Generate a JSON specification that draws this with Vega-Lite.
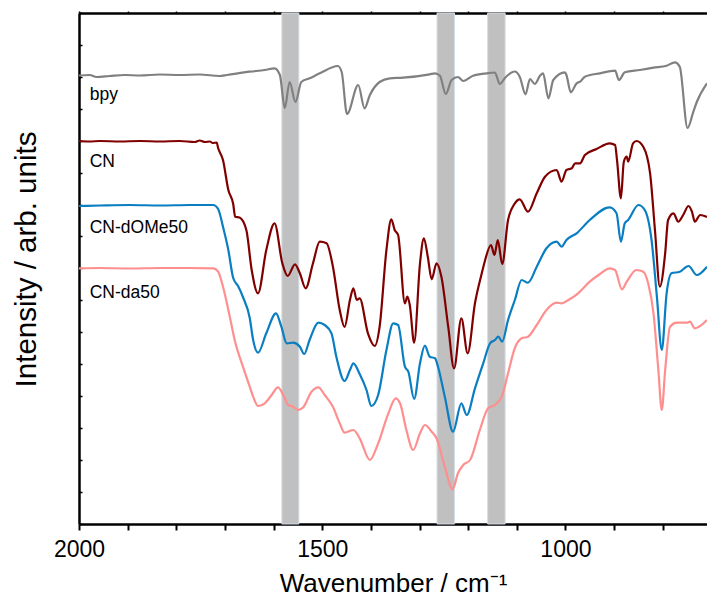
{
  "$schema": "https://vega.github.io/schema/vega-lite/v6.json",
  "width": 628,
  "height": 511,
  "autosize": {"type": "none"},
  "padding": {"left": 79, "top": 13, "right": 0, "bottom": 75},
  "background": "white",
  "config": {
    "view": {"stroke": null},
    "font": "Liberation Sans",
    "axis": {
      "labelFont": "Liberation Sans",
      "titleFont": "Liberation Sans",
      "domainColor": "black",
      "tickColor": "black",
      "labelColor": "black",
      "titleColor": "black",
      "titleFontWeight": "normal",
      "grid": false
    }
  },
  "datasets": {
    "bands": [
      {"from": 1583, "to": 1548},
      {"from": 1264, "to": 1228},
      {"from": 1160, "to": 1124}
    ],
    "labels": [
      {"sample": "bpy", "wavenumber": 1978, "intensity": 424},
      {"sample": "CN", "wavenumber": 1978, "intensity": 357.5},
      {"sample": "CN-dOMe50", "wavenumber": 1978, "intensity": 291},
      {"sample": "CN-da50", "wavenumber": 1978, "intensity": 226}
    ],
    "spectra": [
      {"sample": "bpy", "wavenumber": 2000, "intensity": 448.5},
      {"sample": "bpy", "wavenumber": 1978, "intensity": 449},
      {"sample": "bpy", "wavenumber": 1964, "intensity": 447},
      {"sample": "bpy", "wavenumber": 1937, "intensity": 448},
      {"sample": "bpy", "wavenumber": 1906, "intensity": 449},
      {"sample": "bpy", "wavenumber": 1875, "intensity": 448.5},
      {"sample": "bpy", "wavenumber": 1834, "intensity": 449.5},
      {"sample": "bpy", "wavenumber": 1793, "intensity": 449},
      {"sample": "bpy", "wavenumber": 1752, "intensity": 449.5},
      {"sample": "bpy", "wavenumber": 1711, "intensity": 448},
      {"sample": "bpy", "wavenumber": 1696, "intensity": 449},
      {"sample": "bpy", "wavenumber": 1649, "intensity": 452.3},
      {"sample": "bpy", "wavenumber": 1618, "intensity": 454},
      {"sample": "bpy", "wavenumber": 1598, "intensity": 455.7},
      {"sample": "bpy", "wavenumber": 1587, "intensity": 449},
      {"sample": "bpy", "wavenumber": 1577, "intensity": 416},
      {"sample": "bpy", "wavenumber": 1567, "intensity": 442},
      {"sample": "bpy", "wavenumber": 1555, "intensity": 422},
      {"sample": "bpy", "wavenumber": 1543, "intensity": 442},
      {"sample": "bpy", "wavenumber": 1526, "intensity": 445.7},
      {"sample": "bpy", "wavenumber": 1505, "intensity": 450.7},
      {"sample": "bpy", "wavenumber": 1468, "intensity": 458},
      {"sample": "bpy", "wavenumber": 1460, "intensity": 452},
      {"sample": "bpy", "wavenumber": 1449, "intensity": 410},
      {"sample": "bpy", "wavenumber": 1426, "intensity": 439},
      {"sample": "bpy", "wavenumber": 1413, "intensity": 415.7},
      {"sample": "bpy", "wavenumber": 1402, "intensity": 429},
      {"sample": "bpy", "wavenumber": 1382, "intensity": 442},
      {"sample": "bpy", "wavenumber": 1361, "intensity": 445.7},
      {"sample": "bpy", "wavenumber": 1334, "intensity": 446.3},
      {"sample": "bpy", "wavenumber": 1279, "intensity": 449.7},
      {"sample": "bpy", "wavenumber": 1268, "intensity": 450.7},
      {"sample": "bpy", "wavenumber": 1258, "intensity": 448.3},
      {"sample": "bpy", "wavenumber": 1246, "intensity": 430},
      {"sample": "bpy", "wavenumber": 1234, "intensity": 444},
      {"sample": "bpy", "wavenumber": 1221, "intensity": 447},
      {"sample": "bpy", "wavenumber": 1210, "intensity": 443},
      {"sample": "bpy", "wavenumber": 1190, "intensity": 448.3},
      {"sample": "bpy", "wavenumber": 1162, "intensity": 450.7},
      {"sample": "bpy", "wavenumber": 1145, "intensity": 451.5},
      {"sample": "bpy", "wavenumber": 1135, "intensity": 440},
      {"sample": "bpy", "wavenumber": 1124, "intensity": 446.3},
      {"sample": "bpy", "wavenumber": 1104, "intensity": 452.5},
      {"sample": "bpy", "wavenumber": 1094, "intensity": 447.3},
      {"sample": "bpy", "wavenumber": 1082, "intensity": 429.7},
      {"sample": "bpy", "wavenumber": 1073, "intensity": 445},
      {"sample": "bpy", "wavenumber": 1063, "intensity": 440},
      {"sample": "bpy", "wavenumber": 1052, "intensity": 448.5},
      {"sample": "bpy", "wavenumber": 1046, "intensity": 450.7},
      {"sample": "bpy", "wavenumber": 1035, "intensity": 425.7},
      {"sample": "bpy", "wavenumber": 1025, "intensity": 444},
      {"sample": "bpy", "wavenumber": 1001, "intensity": 451.7},
      {"sample": "bpy", "wavenumber": 998, "intensity": 449},
      {"sample": "bpy", "wavenumber": 989, "intensity": 431.7},
      {"sample": "bpy", "wavenumber": 977, "intensity": 440.7},
      {"sample": "bpy", "wavenumber": 970, "intensity": 442.3},
      {"sample": "bpy", "wavenumber": 960, "intensity": 447.3},
      {"sample": "bpy", "wavenumber": 929, "intensity": 450.7},
      {"sample": "bpy", "wavenumber": 898, "intensity": 453.3},
      {"sample": "bpy", "wavenumber": 890, "intensity": 444},
      {"sample": "bpy", "wavenumber": 878, "intensity": 451.7},
      {"sample": "bpy", "wavenumber": 847, "intensity": 454},
      {"sample": "bpy", "wavenumber": 819, "intensity": 456.3},
      {"sample": "bpy", "wavenumber": 792, "intensity": 458.3},
      {"sample": "bpy", "wavenumber": 775, "intensity": 461.7},
      {"sample": "bpy", "wavenumber": 765, "intensity": 457.3},
      {"sample": "bpy", "wavenumber": 749, "intensity": 396},
      {"sample": "bpy", "wavenumber": 737, "intensity": 412.3},
      {"sample": "bpy", "wavenumber": 730, "intensity": 422},
      {"sample": "bpy", "wavenumber": 709, "intensity": 440.7},

      {"sample": "CN", "wavenumber": 2000, "intensity": 383},
      {"sample": "CN", "wavenumber": 1978, "intensity": 382.5},
      {"sample": "CN", "wavenumber": 1957, "intensity": 383},
      {"sample": "CN", "wavenumber": 1916, "intensity": 382.5},
      {"sample": "CN", "wavenumber": 1875, "intensity": 383},
      {"sample": "CN", "wavenumber": 1834, "intensity": 382.5},
      {"sample": "CN", "wavenumber": 1793, "intensity": 383},
      {"sample": "CN", "wavenumber": 1762, "intensity": 382},
      {"sample": "CN", "wavenumber": 1752, "intensity": 383.5},
      {"sample": "CN", "wavenumber": 1741, "intensity": 382},
      {"sample": "CN", "wavenumber": 1731, "intensity": 382.5},
      {"sample": "CN", "wavenumber": 1725, "intensity": 381},
      {"sample": "CN", "wavenumber": 1717, "intensity": 381.5},
      {"sample": "CN", "wavenumber": 1714, "intensity": 376},
      {"sample": "CN", "wavenumber": 1704, "intensity": 364},
      {"sample": "CN", "wavenumber": 1693, "intensity": 334},
      {"sample": "CN", "wavenumber": 1683, "intensity": 320},
      {"sample": "CN", "wavenumber": 1679, "intensity": 307.3},
      {"sample": "CN", "wavenumber": 1670, "intensity": 306.5},
      {"sample": "CN", "wavenumber": 1656, "intensity": 294},
      {"sample": "CN", "wavenumber": 1645, "intensity": 254},
      {"sample": "CN", "wavenumber": 1632, "intensity": 230.7},
      {"sample": "CN", "wavenumber": 1615, "intensity": 274},
      {"sample": "CN", "wavenumber": 1598, "intensity": 300.7},
      {"sample": "CN", "wavenumber": 1582, "intensity": 260.7},
      {"sample": "CN", "wavenumber": 1571, "intensity": 248},
      {"sample": "CN", "wavenumber": 1556, "intensity": 259.7},
      {"sample": "CN", "wavenumber": 1546, "intensity": 250.7},
      {"sample": "CN", "wavenumber": 1534, "intensity": 235.7},
      {"sample": "CN", "wavenumber": 1519, "intensity": 260.7},
      {"sample": "CN", "wavenumber": 1505, "intensity": 282.3},
      {"sample": "CN", "wavenumber": 1491, "intensity": 280.7},
      {"sample": "CN", "wavenumber": 1478, "intensity": 257.3},
      {"sample": "CN", "wavenumber": 1464, "intensity": 214},
      {"sample": "CN", "wavenumber": 1454, "intensity": 197},
      {"sample": "CN", "wavenumber": 1443, "intensity": 224},
      {"sample": "CN", "wavenumber": 1436, "intensity": 235.7},
      {"sample": "CN", "wavenumber": 1429, "intensity": 224},
      {"sample": "CN", "wavenumber": 1423, "intensity": 225.7},
      {"sample": "CN", "wavenumber": 1406, "intensity": 190.7},
      {"sample": "CN", "wavenumber": 1392, "intensity": 178},
      {"sample": "CN", "wavenumber": 1382, "intensity": 197.3},
      {"sample": "CN", "wavenumber": 1368, "intensity": 274},
      {"sample": "CN", "wavenumber": 1358, "intensity": 304.7},
      {"sample": "CN", "wavenumber": 1351, "intensity": 294},
      {"sample": "CN", "wavenumber": 1344, "intensity": 289},
      {"sample": "CN", "wavenumber": 1330, "intensity": 220.7},
      {"sample": "CN", "wavenumber": 1325, "intensity": 227.3},
      {"sample": "CN", "wavenumber": 1320, "intensity": 219},
      {"sample": "CN", "wavenumber": 1311, "intensity": 181.3},
      {"sample": "CN", "wavenumber": 1299, "intensity": 260.7},
      {"sample": "CN", "wavenumber": 1291, "intensity": 285.7},
      {"sample": "CN", "wavenumber": 1283, "intensity": 267.3},
      {"sample": "CN", "wavenumber": 1275, "intensity": 244.7},
      {"sample": "CN", "wavenumber": 1265, "intensity": 260.7},
      {"sample": "CN", "wavenumber": 1255, "intensity": 247.3},
      {"sample": "CN", "wavenumber": 1241, "intensity": 197.3},
      {"sample": "CN", "wavenumber": 1229, "intensity": 155.7},
      {"sample": "CN", "wavenumber": 1214, "intensity": 205.7},
      {"sample": "CN", "wavenumber": 1201, "intensity": 170.7},
      {"sample": "CN", "wavenumber": 1186, "intensity": 220.7},
      {"sample": "CN", "wavenumber": 1172, "intensity": 250.7},
      {"sample": "CN", "wavenumber": 1166, "intensity": 262.3},
      {"sample": "CN", "wavenumber": 1153, "intensity": 279},
      {"sample": "CN", "wavenumber": 1146, "intensity": 269},
      {"sample": "CN", "wavenumber": 1139, "intensity": 284},
      {"sample": "CN", "wavenumber": 1130, "intensity": 260},
      {"sample": "CN", "wavenumber": 1118, "intensity": 304},
      {"sample": "CN", "wavenumber": 1104, "intensity": 320.7},
      {"sample": "CN", "wavenumber": 1094, "intensity": 324.7},
      {"sample": "CN", "wavenumber": 1077, "intensity": 312.3},
      {"sample": "CN", "wavenumber": 1059, "intensity": 330.7},
      {"sample": "CN", "wavenumber": 1042, "intensity": 347.3},
      {"sample": "CN", "wavenumber": 1018, "intensity": 354},
      {"sample": "CN", "wavenumber": 1008, "intensity": 342.3},
      {"sample": "CN", "wavenumber": 998, "intensity": 354},
      {"sample": "CN", "wavenumber": 987, "intensity": 355.7},
      {"sample": "CN", "wavenumber": 980, "intensity": 360.7},
      {"sample": "CN", "wavenumber": 970, "intensity": 360.7},
      {"sample": "CN", "wavenumber": 960, "intensity": 369},
      {"sample": "CN", "wavenumber": 936, "intensity": 375},
      {"sample": "CN", "wavenumber": 909, "intensity": 380.7},
      {"sample": "CN", "wavenumber": 898, "intensity": 379},
      {"sample": "CN", "wavenumber": 894, "intensity": 364},
      {"sample": "CN", "wavenumber": 886, "intensity": 325.7},
      {"sample": "CN", "wavenumber": 880, "intensity": 362.3},
      {"sample": "CN", "wavenumber": 874, "intensity": 367.3},
      {"sample": "CN", "wavenumber": 871, "intensity": 362.3},
      {"sample": "CN", "wavenumber": 861, "intensity": 380.7},
      {"sample": "CN", "wavenumber": 854, "intensity": 383},
      {"sample": "CN", "wavenumber": 840, "intensity": 377.3},
      {"sample": "CN", "wavenumber": 826, "intensity": 350.7},
      {"sample": "CN", "wavenumber": 816, "intensity": 294},
      {"sample": "CN", "wavenumber": 806, "intensity": 237.3},
      {"sample": "CN", "wavenumber": 795, "intensity": 270.7},
      {"sample": "CN", "wavenumber": 789, "intensity": 304},
      {"sample": "CN", "wavenumber": 778, "intensity": 310.7},
      {"sample": "CN", "wavenumber": 768, "intensity": 302.3},
      {"sample": "CN", "wavenumber": 758, "intensity": 309},
      {"sample": "CN", "wavenumber": 747, "intensity": 318},
      {"sample": "CN", "wavenumber": 740, "intensity": 312.3},
      {"sample": "CN", "wavenumber": 734, "intensity": 302.3},
      {"sample": "CN", "wavenumber": 723, "intensity": 309},
      {"sample": "CN", "wavenumber": 709, "intensity": 307},

      {"sample": "CN-dOMe50", "wavenumber": 2000, "intensity": 318},
      {"sample": "CN-dOMe50", "wavenumber": 1957, "intensity": 318.5},
      {"sample": "CN-dOMe50", "wavenumber": 1896, "intensity": 319},
      {"sample": "CN-dOMe50", "wavenumber": 1834, "intensity": 318.5},
      {"sample": "CN-dOMe50", "wavenumber": 1772, "intensity": 319},
      {"sample": "CN-dOMe50", "wavenumber": 1724, "intensity": 319},
      {"sample": "CN-dOMe50", "wavenumber": 1714, "intensity": 315},
      {"sample": "CN-dOMe50", "wavenumber": 1704, "intensity": 297.3},
      {"sample": "CN-dOMe50", "wavenumber": 1693, "intensity": 274},
      {"sample": "CN-dOMe50", "wavenumber": 1683, "intensity": 246},
      {"sample": "CN-dOMe50", "wavenumber": 1673, "intensity": 238},
      {"sample": "CN-dOMe50", "wavenumber": 1663, "intensity": 227},
      {"sample": "CN-dOMe50", "wavenumber": 1649, "intensity": 206},
      {"sample": "CN-dOMe50", "wavenumber": 1642, "intensity": 184},
      {"sample": "CN-dOMe50", "wavenumber": 1632, "intensity": 171.3},
      {"sample": "CN-dOMe50", "wavenumber": 1615, "intensity": 190.7},
      {"sample": "CN-dOMe50", "wavenumber": 1595, "intensity": 210.7},
      {"sample": "CN-dOMe50", "wavenumber": 1584, "intensity": 197.3},
      {"sample": "CN-dOMe50", "wavenumber": 1573, "intensity": 180.7},
      {"sample": "CN-dOMe50", "wavenumber": 1560, "intensity": 181.3},
      {"sample": "CN-dOMe50", "wavenumber": 1546, "intensity": 177.3},
      {"sample": "CN-dOMe50", "wavenumber": 1537, "intensity": 170},
      {"sample": "CN-dOMe50", "wavenumber": 1526, "intensity": 184},
      {"sample": "CN-dOMe50", "wavenumber": 1508, "intensity": 201.3},
      {"sample": "CN-dOMe50", "wavenumber": 1495, "intensity": 199},
      {"sample": "CN-dOMe50", "wavenumber": 1481, "intensity": 190.7},
      {"sample": "CN-dOMe50", "wavenumber": 1471, "intensity": 167.3},
      {"sample": "CN-dOMe50", "wavenumber": 1454, "intensity": 143},
      {"sample": "CN-dOMe50", "wavenumber": 1443, "intensity": 154},
      {"sample": "CN-dOMe50", "wavenumber": 1436, "intensity": 160.7},
      {"sample": "CN-dOMe50", "wavenumber": 1423, "intensity": 150},
      {"sample": "CN-dOMe50", "wavenumber": 1409, "intensity": 134},
      {"sample": "CN-dOMe50", "wavenumber": 1399, "intensity": 118},
      {"sample": "CN-dOMe50", "wavenumber": 1385, "intensity": 129},
      {"sample": "CN-dOMe50", "wavenumber": 1368, "intensity": 174},
      {"sample": "CN-dOMe50", "wavenumber": 1354, "intensity": 200.7},
      {"sample": "CN-dOMe50", "wavenumber": 1344, "intensity": 199},
      {"sample": "CN-dOMe50", "wavenumber": 1330, "intensity": 157.3},
      {"sample": "CN-dOMe50", "wavenumber": 1323, "intensity": 152.3},
      {"sample": "CN-dOMe50", "wavenumber": 1311, "intensity": 125},
      {"sample": "CN-dOMe50", "wavenumber": 1299, "intensity": 160.7},
      {"sample": "CN-dOMe50", "wavenumber": 1289, "intensity": 178.3},
      {"sample": "CN-dOMe50", "wavenumber": 1279, "intensity": 167.3},
      {"sample": "CN-dOMe50", "wavenumber": 1268, "intensity": 165.7},
      {"sample": "CN-dOMe50", "wavenumber": 1262, "intensity": 157.3},
      {"sample": "CN-dOMe50", "wavenumber": 1248, "intensity": 127.3},
      {"sample": "CN-dOMe50", "wavenumber": 1231, "intensity": 92.3},
      {"sample": "CN-dOMe50", "wavenumber": 1214, "intensity": 120.7},
      {"sample": "CN-dOMe50", "wavenumber": 1203, "intensity": 109},
      {"sample": "CN-dOMe50", "wavenumber": 1186, "intensity": 135.7},
      {"sample": "CN-dOMe50", "wavenumber": 1169, "intensity": 160.7},
      {"sample": "CN-dOMe50", "wavenumber": 1155, "intensity": 180.7},
      {"sample": "CN-dOMe50", "wavenumber": 1145, "intensity": 184},
      {"sample": "CN-dOMe50", "wavenumber": 1138, "intensity": 187.3},
      {"sample": "CN-dOMe50", "wavenumber": 1130, "intensity": 182.3},
      {"sample": "CN-dOMe50", "wavenumber": 1118, "intensity": 204},
      {"sample": "CN-dOMe50", "wavenumber": 1104, "intensity": 224},
      {"sample": "CN-dOMe50", "wavenumber": 1090, "intensity": 244},
      {"sample": "CN-dOMe50", "wavenumber": 1077, "intensity": 241.3},
      {"sample": "CN-dOMe50", "wavenumber": 1059, "intensity": 257.3},
      {"sample": "CN-dOMe50", "wavenumber": 1039, "intensity": 275.7},
      {"sample": "CN-dOMe50", "wavenumber": 1018, "intensity": 282.3},
      {"sample": "CN-dOMe50", "wavenumber": 1008, "intensity": 277.3},
      {"sample": "CN-dOMe50", "wavenumber": 998, "intensity": 284},
      {"sample": "CN-dOMe50", "wavenumber": 977, "intensity": 290.7},
      {"sample": "CN-dOMe50", "wavenumber": 950, "intensity": 304},
      {"sample": "CN-dOMe50", "wavenumber": 909, "intensity": 316.7},
      {"sample": "CN-dOMe50", "wavenumber": 895, "intensity": 310.7},
      {"sample": "CN-dOMe50", "wavenumber": 886, "intensity": 282.3},
      {"sample": "CN-dOMe50", "wavenumber": 878, "intensity": 300.7},
      {"sample": "CN-dOMe50", "wavenumber": 871, "intensity": 304},
      {"sample": "CN-dOMe50", "wavenumber": 850, "intensity": 319},
      {"sample": "CN-dOMe50", "wavenumber": 837, "intensity": 314},
      {"sample": "CN-dOMe50", "wavenumber": 823, "intensity": 284},
      {"sample": "CN-dOMe50", "wavenumber": 812, "intensity": 227.3},
      {"sample": "CN-dOMe50", "wavenumber": 802, "intensity": 174},
      {"sample": "CN-dOMe50", "wavenumber": 792, "intensity": 230.7},
      {"sample": "CN-dOMe50", "wavenumber": 782, "intensity": 250.7},
      {"sample": "CN-dOMe50", "wavenumber": 765, "intensity": 252.3},
      {"sample": "CN-dOMe50", "wavenumber": 747, "intensity": 258},
      {"sample": "CN-dOMe50", "wavenumber": 730, "intensity": 249},
      {"sample": "CN-dOMe50", "wavenumber": 709, "intensity": 257.3},

      {"sample": "CN-da50", "wavenumber": 2000, "intensity": 255.7},
      {"sample": "CN-da50", "wavenumber": 1957, "intensity": 256},
      {"sample": "CN-da50", "wavenumber": 1896, "intensity": 255.5},
      {"sample": "CN-da50", "wavenumber": 1834, "intensity": 256},
      {"sample": "CN-da50", "wavenumber": 1772, "intensity": 256},
      {"sample": "CN-da50", "wavenumber": 1724, "intensity": 255.7},
      {"sample": "CN-da50", "wavenumber": 1714, "intensity": 252.3},
      {"sample": "CN-da50", "wavenumber": 1704, "intensity": 237.3},
      {"sample": "CN-da50", "wavenumber": 1690, "intensity": 207.3},
      {"sample": "CN-da50", "wavenumber": 1680, "intensity": 184},
      {"sample": "CN-da50", "wavenumber": 1663, "intensity": 157.3},
      {"sample": "CN-da50", "wavenumber": 1649, "intensity": 137.3},
      {"sample": "CN-da50", "wavenumber": 1642, "intensity": 127.3},
      {"sample": "CN-da50", "wavenumber": 1632, "intensity": 118},
      {"sample": "CN-da50", "wavenumber": 1618, "intensity": 120.7},
      {"sample": "CN-da50", "wavenumber": 1604, "intensity": 129},
      {"sample": "CN-da50", "wavenumber": 1591, "intensity": 136.7},
      {"sample": "CN-da50", "wavenumber": 1577, "intensity": 125.7},
      {"sample": "CN-da50", "wavenumber": 1570, "intensity": 119},
      {"sample": "CN-da50", "wavenumber": 1560, "intensity": 117.3},
      {"sample": "CN-da50", "wavenumber": 1550, "intensity": 114},
      {"sample": "CN-da50", "wavenumber": 1539, "intensity": 116.7},
      {"sample": "CN-da50", "wavenumber": 1522, "intensity": 132.3},
      {"sample": "CN-da50", "wavenumber": 1508, "intensity": 136.7},
      {"sample": "CN-da50", "wavenumber": 1495, "intensity": 129},
      {"sample": "CN-da50", "wavenumber": 1478, "intensity": 117.3},
      {"sample": "CN-da50", "wavenumber": 1464, "intensity": 100.7},
      {"sample": "CN-da50", "wavenumber": 1454, "intensity": 91.3},
      {"sample": "CN-da50", "wavenumber": 1436, "intensity": 94},
      {"sample": "CN-da50", "wavenumber": 1423, "intensity": 85.7},
      {"sample": "CN-da50", "wavenumber": 1402, "intensity": 64},
      {"sample": "CN-da50", "wavenumber": 1385, "intensity": 80.7},
      {"sample": "CN-da50", "wavenumber": 1364, "intensity": 110.7},
      {"sample": "CN-da50", "wavenumber": 1349, "intensity": 125.7},
      {"sample": "CN-da50", "wavenumber": 1340, "intensity": 120.7},
      {"sample": "CN-da50", "wavenumber": 1327, "intensity": 94},
      {"sample": "CN-da50", "wavenumber": 1313, "intensity": 74},
      {"sample": "CN-da50", "wavenumber": 1299, "intensity": 90.7},
      {"sample": "CN-da50", "wavenumber": 1289, "intensity": 99},
      {"sample": "CN-da50", "wavenumber": 1275, "intensity": 92.3},
      {"sample": "CN-da50", "wavenumber": 1265, "intensity": 85.7},
      {"sample": "CN-da50", "wavenumber": 1248, "intensity": 57.3},
      {"sample": "CN-da50", "wavenumber": 1232, "intensity": 34.7},
      {"sample": "CN-da50", "wavenumber": 1221, "intensity": 50.7},
      {"sample": "CN-da50", "wavenumber": 1210, "intensity": 59},
      {"sample": "CN-da50", "wavenumber": 1196, "intensity": 64},
      {"sample": "CN-da50", "wavenumber": 1176, "intensity": 94},
      {"sample": "CN-da50", "wavenumber": 1159, "intensity": 115.7},
      {"sample": "CN-da50", "wavenumber": 1145, "intensity": 119},
      {"sample": "CN-da50", "wavenumber": 1131, "intensity": 127.3},
      {"sample": "CN-da50", "wavenumber": 1118, "intensity": 150.7},
      {"sample": "CN-da50", "wavenumber": 1104, "intensity": 176},
      {"sample": "CN-da50", "wavenumber": 1090, "intensity": 185.7},
      {"sample": "CN-da50", "wavenumber": 1077, "intensity": 187.3},
      {"sample": "CN-da50", "wavenumber": 1059, "intensity": 199},
      {"sample": "CN-da50", "wavenumber": 1039, "intensity": 214},
      {"sample": "CN-da50", "wavenumber": 1018, "intensity": 221.3},
      {"sample": "CN-da50", "wavenumber": 1008, "intensity": 220.7},
      {"sample": "CN-da50", "wavenumber": 994, "intensity": 224},
      {"sample": "CN-da50", "wavenumber": 974, "intensity": 230.7},
      {"sample": "CN-da50", "wavenumber": 950, "intensity": 242.3},
      {"sample": "CN-da50", "wavenumber": 929, "intensity": 250},
      {"sample": "CN-da50", "wavenumber": 909, "intensity": 255.7},
      {"sample": "CN-da50", "wavenumber": 898, "intensity": 254},
      {"sample": "CN-da50", "wavenumber": 884, "intensity": 234.7},
      {"sample": "CN-da50", "wavenumber": 874, "intensity": 242.3},
      {"sample": "CN-da50", "wavenumber": 854, "intensity": 254},
      {"sample": "CN-da50", "wavenumber": 840, "intensity": 252.3},
      {"sample": "CN-da50", "wavenumber": 830, "intensity": 240.7},
      {"sample": "CN-da50", "wavenumber": 819, "intensity": 210.7},
      {"sample": "CN-da50", "wavenumber": 809, "intensity": 154},
      {"sample": "CN-da50", "wavenumber": 802, "intensity": 114},
      {"sample": "CN-da50", "wavenumber": 795, "intensity": 154},
      {"sample": "CN-da50", "wavenumber": 785, "intensity": 197.3},
      {"sample": "CN-da50", "wavenumber": 771, "intensity": 201.3},
      {"sample": "CN-da50", "wavenumber": 751, "intensity": 201.3},
      {"sample": "CN-da50", "wavenumber": 744, "intensity": 202.3},
      {"sample": "CN-da50", "wavenumber": 734, "intensity": 195.7},
      {"sample": "CN-da50", "wavenumber": 709, "intensity": 204}
    ]
  },
  "layer": [
    {
      "data": {"name": "bands"},
      "mark": {"type": "rect", "color": "#c0c0c0", "stroke": "#d3dee8", "strokeWidth": 1},
      "encoding": {
        "x": {
          "field": "from",
          "type": "quantitative",
          "scale": {"domain": [709, 2000], "reverse": true, "nice": false, "zero": false},
          "axis": {
            "orient": "top",
            "labels": false,
            "title": null,
            "values": [2000, 1900, 1800, 1700, 1600, 1500, 1400, 1300, 1200, 1100, 1000, 900, 800],
            "tickSize": 2,
            "tickWidth": 1.5,
            "domainWidth": 2.5
          }
        },
        "x2": {"field": "to"}
      }
    },
    {
      "data": {"name": "spectra"},
      "mark": {"type": "line", "strokeWidth": 2.2, "strokeJoin": "round", "interpolate": "monotone"},
      "encoding": {
        "x": {
          "field": "wavenumber",
          "type": "quantitative",
          "scale": {"domain": [709, 2000], "reverse": true, "nice": false, "zero": false},
          "axis": {
            "orient": "bottom",
            "title": "Wavenumber / cm⁻¹",
            "values": [2000, 1900, 1800, 1700, 1600, 1500, 1400, 1300, 1200, 1100, 1000, 900, 800],
            "labelExpr": "datum.value % 500 === 0 ? datum.value + '' : ''",
            "labelFlush": false,
            "labelOverlap": false,
            "labelFontSize": 23,
            "labelPadding": 8,
            "tickSize": 6,
            "tickWidth": 2,
            "domainWidth": 2.5,
            "titleFontSize": 26,
            "titlePadding": 9
          }
        },
        "y": {
          "field": "intensity",
          "type": "quantitative",
          "scale": {"domain": [0, 511], "nice": false, "zero": false},
          "axis": {
            "orient": "left",
            "title": "Intensity / arb. units",
            "labels": false,
            "values": [0, 32, 64, 96, 128, 160, 192, 224, 256, 288, 319, 351, 383, 415, 447, 479, 511],
            "tickSize": -3,
            "tickWidth": 1.5,
            "domainWidth": 2.5,
            "titleFontSize": 29.5,
            "titlePadding": 37,
            "titleY": 246
          }
        },
        "color": {
          "field": "sample",
          "type": "nominal",
          "scale": {
            "domain": ["bpy", "CN", "CN-dOMe50", "CN-da50"],
            "range": ["#808080", "#800000", "#0a7ec2", "#ff8f8f"]
          },
          "legend": null
        }
      }
    },
    {
      "data": {"name": "labels"},
      "mark": {"type": "text", "align": "left", "baseline": "alphabetic", "fontSize": 17.5, "font": "Liberation Sans", "color": "black"},
      "encoding": {
        "x": {"field": "wavenumber", "type": "quantitative", "axis": null},
        "y": {"field": "intensity", "type": "quantitative", "axis": null},
        "text": {"field": "sample", "type": "nominal"}
      }
    }
  ],
  "resolve": {"axis": {"x": "independent", "y": "independent"}}
}
